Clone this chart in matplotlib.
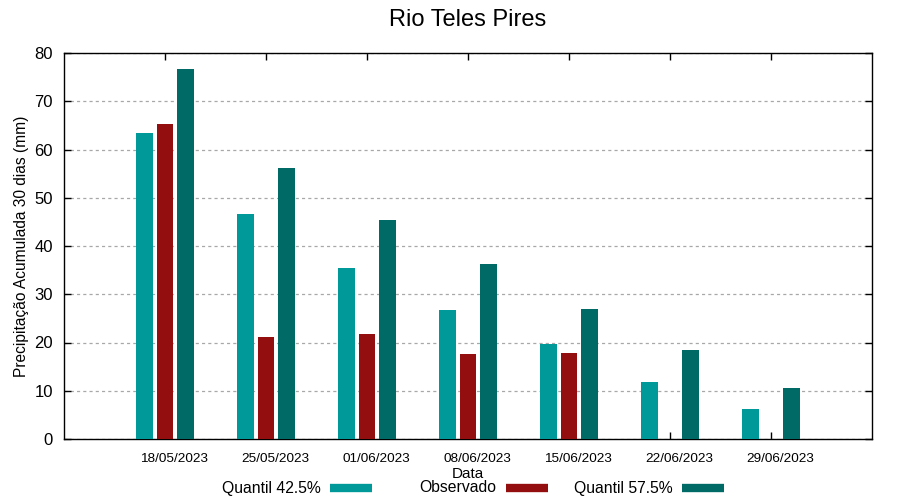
import matplotlib.pyplot as plt
import numpy as np
from matplotlib.lines import Line2D

plt.rcParams['font.family'] = ['Liberation Sans', 'DejaVu Sans']

# data
datas = ['18/05/2023', '25/05/2023', '01/06/2023', '08/06/2023',
         '15/06/2023', '22/06/2023', '29/06/2023']
q425 = [63.4, 46.6, 35.4, 26.7, 19.7, 11.8, 6.2]
observado = [65.3, 21.1, 21.8, 17.6, 17.8, np.nan, np.nan]
q575 = [76.7, 56.2, 45.4, 36.3, 26.9, 18.4, 10.6]

c_q425 = '#009999'
c_obs = '#930f0f'
c_q575 = '#006a66'

fig = plt.figure(figsize=(9, 5), dpi=100)
ax = fig.add_axes([64/900, 61/500, 808/900, 386/500])

x = np.arange(len(datas))
w = 0.165
ax.bar(x - 0.2, q425, width=w, color=c_q425, zorder=3)
ax.bar(x, observado, width=w, color=c_obs, zorder=3)
ax.bar(x + 0.2, q575, width=w, color=c_q575, zorder=3)

ax.set_xlim(-1, 7)
ax.set_ylim(0, 80)
ax.set_yticks(np.arange(0, 81, 10))
ax.set_xticks(x)
ax.set_xticklabels([])
# date labels sit a bit right of the ticks (gnuplot look)
tr = ax.get_xaxis_transform()
for i, d in enumerate(datas):
    ax.text(i + 0.09, -20/386, d, transform=tr, fontsize=9.7,
            ha='center', va='center')

ax.tick_params(axis='both', direction='in', top=True, right=True,
               length=5, width=1)
ax.tick_params(axis='y', labelsize=12, pad=8)

ax.yaxis.grid(True, color='#a8a8a8', linestyle=(0, (2.5, 2.5)), lw=0.9, zorder=0)
for s in ax.spines.values():
    s.set_linewidth(1)

ax.set_ylabel('Precipitação Acumulada 30 dias (mm)', fontsize=11.2, labelpad=4)
fig.text(468/900, 1 - 474/500, 'Data', fontsize=11, ha='center', va='center')
fig.text(468/900, 1 - 20/500, 'Rio Teles Pires', fontsize=17, ha='center', va='center')

# legend in gnuplot style: text then sample
leg = [('Quantil 42.5%', c_q425, 321, 330),
       ('Observado', c_obs, 496, 506),
       ('Quantil 57.5%', c_q575, 673, 682)]
ly = 1 - 488/500
for txt, col, tx, sx in leg:
    fig.text(tx/900, ly, txt, fontsize=11.3, ha='right', va='center')
    fig.add_artist(Line2D([sx/900, (sx + 42)/900], [ly, ly], color=col, lw=6,
                          transform=fig.transFigure, solid_capstyle='butt'))

fig.savefig('out.png', dpi=100)
